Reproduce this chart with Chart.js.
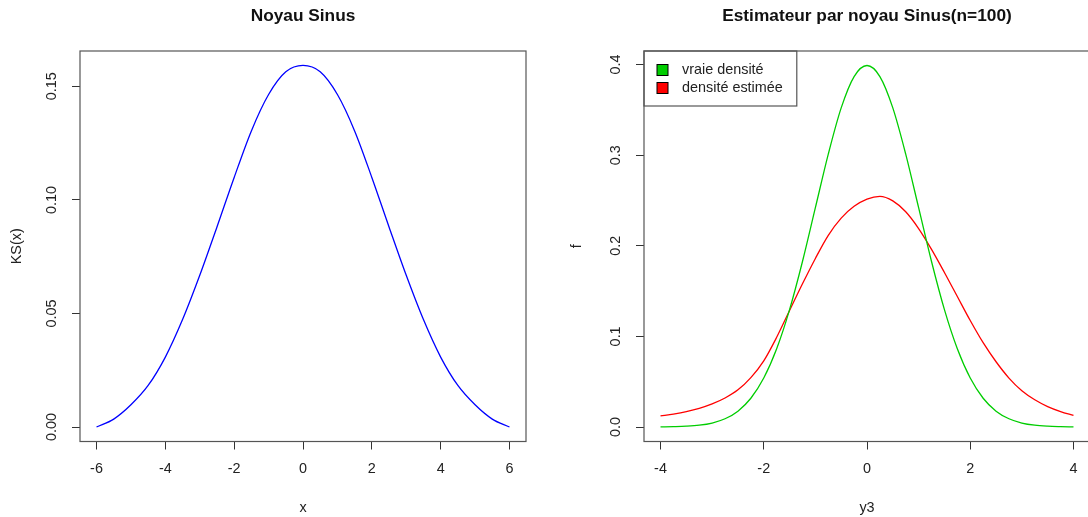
<!DOCTYPE html>
<html>
<head>
<meta charset="utf-8">
<script src="https://cdn.jsdelivr.net/npm/chart.js@4.4.0/dist/chart.umd.min.js"></script>
<style>
  html, body { margin: 0; padding: 0; background: #fff; width: 1088px; height: 517px; overflow: hidden; }
  .panel { position: absolute; top: 0; width: 567px; height: 517px; }
  #left-panel { left: 0; }
  #right-panel { left: 564px; }
  .title {
    position: absolute; top: 5px; line-height: 1;
    font: bold 17.3px "Liberation Sans", Arial, sans-serif; color: #111;
    white-space: nowrap; transform: translateX(-50%);
  }
</style>
</head>
<body>
<div class="panel" id="left-panel">
  <canvas id="kernel-chart" width="567" height="517"></canvas>
  <div class="title" style="left:303px">Noyau Sinus</div>
</div>
<div class="panel" id="right-panel">
  <canvas id="estimate-chart" width="567" height="517"></canvas>
  <div class="title" style="left:303px">Estimateur par noyau Sinus(n=100)</div>
</div>
<script>
// Left panel: Sinus kernel KS(x)
const kernelX = [-6, -5.5, -5, -4.5, -4, -3.5, -3, -2.5, -2, -1.5, -1, -0.5, 0,
                 0.5, 1, 1.5, 2, 2.5, 3, 3.5, 4, 4.5, 5, 5.5, 6];
const kernelKS = [0.0000, 0.0035, 0.0098, 0.0183, 0.0308, 0.0473, 0.0668, 0.0881, 0.1099, 0.1304, 0.1464, 0.1564, 0.1592,
                  0.1564, 0.1464, 0.1304, 0.1099, 0.0881, 0.0668, 0.0473, 0.0308, 0.0183, 0.0098, 0.0035, 0.0000];

// Right panel: true density vs kernel estimate (n=100)
const y3 = [-4, -3.75, -3.5, -3.25, -3, -2.75, -2.5, -2.25, -2, -1.75, -1.5, -1.25, -1, -0.75, -0.5, -0.25, 0,
            0.25, 0.5, 0.75, 1, 1.25, 1.5, 1.75, 2, 2.25, 2.5, 2.75, 3, 3.25, 3.5, 3.75, 4];
const trueDensity = [0.0001, 0.0004, 0.0009, 0.0020, 0.0044, 0.0091, 0.0175, 0.0317, 0.0540, 0.0863, 0.1295, 0.1826, 0.2420, 0.3011, 0.3521, 0.3867, 0.3989,
                     0.3867, 0.3521, 0.3011, 0.2420, 0.1826, 0.1295, 0.0863, 0.0540, 0.0317, 0.0175, 0.0091, 0.0044, 0.0020, 0.0009, 0.0004, 0.0001];
const estDensity = [0.0122, 0.0143, 0.0170, 0.0206, 0.0255, 0.0320, 0.0410, 0.0545, 0.0730, 0.0990, 0.1285, 0.1580, 0.1860, 0.2115, 0.2305, 0.2435, 0.2515,
                    0.2545, 0.2495, 0.2375, 0.2190, 0.1960, 0.1705, 0.1440, 0.1175, 0.0930, 0.0720, 0.0540, 0.0400, 0.0300, 0.0225, 0.0170, 0.0128];

// Tick values and labels
const kernelXTicks = [-6, -4, -2, 0, 2, 4, 6];
const kernelYTicks = [0, 0.05, 0.10, 0.15];
const kernelYLabels = ['0.00', '0.05', '0.10', '0.15'];
const estXTicks = [-4, -2, 0, 2, 4];
const estYTicks = [0, 0.1, 0.2, 0.3, 0.4];
const estYLabels = ['0.0', '0.1', '0.2', '0.3', '0.4'];

const FONT = '"Liberation Sans", Arial, sans-serif';
Chart.defaults.font.family = FONT;
Chart.defaults.font.size = 14.4;
Chart.defaults.color = '#222';

// R-like box around the plot region
const boxPlugin = {
    id: 'rBox',
    afterDraw(chart) {
        const a = chart.chartArea;
        const ctx = chart.ctx;
        ctx.save();
        ctx.strokeStyle = '#555';
        ctx.lineWidth = 1.2;
        ctx.strokeRect(a.left, a.top, a.right - a.left, a.bottom - a.top);
        ctx.restore();
    }
};

// Rotated y tick labels (R default las=0)
const yLabelPlugin = {
    id: 'rYLabels',
    afterDraw(chart, args, opts) {
        const scale = chart.scales.y;
        const ctx = chart.ctx;
        ctx.save();
        ctx.fillStyle = '#222';
        ctx.font = '14.4px ' + FONT;
        ctx.textAlign = 'center';
        ctx.textBaseline = 'middle';
        scale.ticks.forEach((t, i) => {
            const y = scale.getPixelForValue(t.value);
            ctx.save();
            ctx.translate(chart.chartArea.left - opts.offset, y);
            ctx.rotate(-Math.PI / 2);
            ctx.fillText(opts.labels[i], 0, 0);
            ctx.restore();
        });
        ctx.restore();
    }
};

// Legend in top-left corner with a frame, like R's legend("topleft", fill=...)
const rLegendPlugin = {
    id: 'rLegend',
    afterDraw(chart, args, opts) {
        if (!opts.show) return;
        const ctx = chart.ctx;
        const a = chart.chartArea;
        const sets = chart.data.datasets;
        ctx.save();
        ctx.font = '14.4px ' + FONT;
        const textW = Math.max(...sets.map(d => ctx.measureText(d.label).width));
        const w = 38 + textW + 14;
        const h = 55;
        ctx.strokeStyle = '#555';
        ctx.lineWidth = 1.2;
        ctx.strokeRect(a.left, a.top, w, h);
        sets.forEach((d, i) => {
            const cy = a.top + 19 + i * 18;
            ctx.fillStyle = d.borderColor;
            ctx.fillRect(a.left + 13, cy - 5.5, 11, 11);
            ctx.strokeStyle = '#000';
            ctx.lineWidth = 1;
            ctx.strokeRect(a.left + 13, cy - 5.5, 11, 11);
            ctx.fillStyle = '#222';
            ctx.textAlign = 'left';
            ctx.textBaseline = 'middle';
            ctx.fillText(d.label, a.left + 38, cy);
        });
        ctx.restore();
    }
};

function axisX(min, max, tickValues, titleText) {
    return {
        type: 'linear',
        min: min,
        max: max,
        afterBuildTicks: s => { s.ticks = tickValues.map(v => ({ value: v })); },
        afterFit: s => { s.height = 75.5; },
        ticks: { padding: 11, maxRotation: 0, autoSkip: false, color: '#222', callback: v => String(v) },
        grid: { display: true, drawOnChartArea: false, drawTicks: true, tickLength: 8, color: '#333' },
        border: { display: false },
        title: { display: true, text: titleText, color: '#222', font: { size: 14.4 }, padding: { top: 0, bottom: 0 } }
    };
}

function axisY(min, max, tickValues, titleText, titlePad) {
    return {
        type: 'linear',
        min: min,
        max: max,
        afterBuildTicks: s => { s.ticks = tickValues.map(v => ({ value: v })); },
        afterFit: s => { s.width = 80; },
        ticks: { display: false },
        grid: { display: true, drawOnChartArea: false, drawTicks: true, tickLength: 8, color: '#333' },
        border: { display: false },
        title: { display: true, text: titleText, color: '#222', font: { size: 14.4 }, padding: { top: titlePad, bottom: 0 } }
    };
}

function makeSeries(xs, ys) {
    return xs.map((x, i) => ({ x: x, y: ys[i] }));
}

new Chart(document.getElementById('kernel-chart'), {
    type: 'line',
    data: {
        datasets: [{
            label: 'KS(x)',
            data: makeSeries(kernelX, kernelKS),
            borderColor: '#0000FF',
            borderWidth: 1.3,
            pointRadius: 0,
            cubicInterpolationMode: 'monotone'
        }]
    },
    options: {
        responsive: false,
        animation: false,
        layout: { padding: { top: 51, right: 41, left: 0, bottom: 0 } },
        plugins: {
            legend: { display: false },
            tooltip: { enabled: false },
            rYLabels: { labels: kernelYLabels, offset: 28 },
            rLegend: { show: false }
        },
        scales: {
            x: axisX(-6.48, 6.48, kernelXTicks, 'x'),
            y: axisY(-0.00637, 0.16557, kernelYTicks, 'KS(x)', 8)
        }
    },
    plugins: [boxPlugin, yLabelPlugin, rLegendPlugin]
});

new Chart(document.getElementById('estimate-chart'), {
    type: 'line',
    data: {
        datasets: [
            {
                label: 'vraie densité',
                data: makeSeries(y3, trueDensity),
                borderColor: '#00CD00',
                borderWidth: 1.3,
                pointRadius: 0,
                cubicInterpolationMode: 'monotone'
            },
            {
                label: 'densité estimée',
                data: makeSeries(y3, estDensity),
                borderColor: '#FF0000',
                borderWidth: 1.3,
                pointRadius: 0,
                cubicInterpolationMode: 'monotone'
            }
        ]
    },
    options: {
        responsive: false,
        animation: false,
        layout: { padding: { top: 51, right: 41, left: 0, bottom: 0 } },
        plugins: {
            legend: { display: false },
            tooltip: { enabled: false },
            rYLabels: { labels: estYLabels, offset: 28 },
            rLegend: { show: true }
        },
        scales: {
            x: axisX(-4.32, 4.32, estXTicks, 'y3'),
            y: axisY(-0.016, 0.4149, estYTicks, 'f', 4)
        }
    },
    plugins: [boxPlugin, yLabelPlugin, rLegendPlugin]
});
</script>
</body>
</html>
